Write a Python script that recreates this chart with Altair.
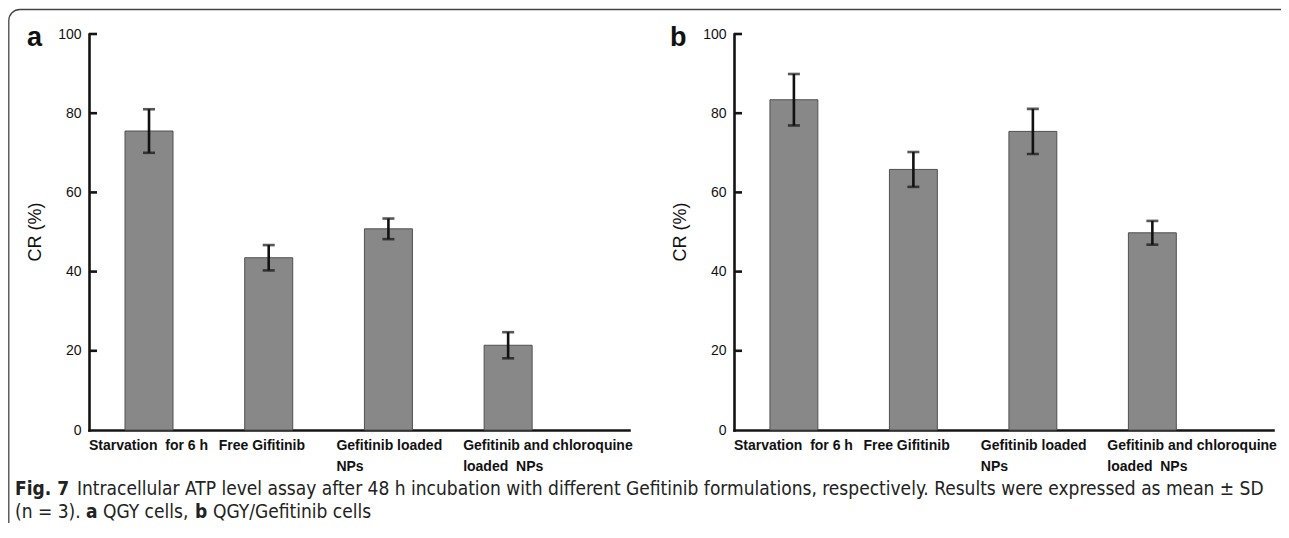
import altair as alt
import pandas as pd

# ---------------- data ----------------
categories = [
    "Starvation\u00a0 for 6 h",
    "Free Gifitinib",
    "Gefitinib loaded|\u00a0NPs",
    "Gefitinib and chloroquine|\u00a0loaded\u00a0 NPs",
]
a_mean = [75.5, 43.5, 50.8, 21.4]
a_sd = [5.5, 3.2, 2.6, 3.3]
b_mean = [83.4, 65.8, 75.4, 49.8]
b_sd = [6.5, 4.4, 5.7, 3.0]
y_ticks = [0, 20, 40, 60, 80, 100]
panel_letters = ["a", "b"]
y_title = "CR (%)"
cap1_bold = "Fig. 7"
cap1_text = ("Intracellular ATP level assay after 48 h incubation with different Gefitinib "
             "formulations, respectively. Results were expressed as mean \u00b1 SD")
cap2_parts = ["(n = 3).", "a", "QGY cells,", "b", "QGY/Gefitinib cells"]
cap2_bold = [False, True, False, True, False]

# ---------------- layout (chart pixel coords) ----------------
W = 1273
PH = 422          # y of value 0
Y100 = 26         # y of value 100
PAD_BOTTOM = 93
AXIS_COLOR = "#141414"
FONT = "Liberation Sans"
CAP_FONT = "DejaVu Sans Condensed, sans-serif"
label_offsets = [-60, -50, -52, -45]


def label_offset_cond():
    return {
        "condition": [
            {"test": f"datum.value === '{c}'", "value": o}
            for c, o in zip(categories[:-1], label_offsets[:-1])
        ],
        "value": label_offsets[-1],
    }


def panel(means, sds, x0, x1):
    df = pd.DataFrame({"cat": categories, "mean": means, "sd": sds})
    xs = alt.Scale(domain=categories, range=[x0, x1], paddingInner=0.599,
                   paddingOuter=0.555, align=0.271)
    ys = alt.Scale(domain=[0, 100], range=[PH, Y100], nice=False)
    xa = alt.Axis(orient="bottom", offset=0, title=None, ticks=False,
                  domainWidth=2.6, domainColor=AXIS_COLOR, domainCap="square",
                  labelFont=FONT, labelFontSize=14, labelFontWeight="bold",
                  labelColor="#111111", labelExpr="split(datum.label, '|')",
                  labelAlign="left", labelBaseline="top", labelPadding=8,
                  labelLineHeight=21, labelOffset=label_offset_cond(),
                  labelOverlap=False, labelFlush=False, labelBound=False,
                  labelAngle=0, labelLimit=0, grid=False)
    ya = alt.Axis(orient="left", offset=-x0, values=y_ticks, title=None,
                  ticks=False, domainWidth=2.6, domainColor=AXIS_COLOR,
                  domainCap="square", labelFont=FONT, labelFontSize=14,
                  labelColor="#111111", labelPadding=8, grid=False)
    base = alt.Chart(df).transform_calculate(
        lo="datum.mean - datum.sd", hi="datum.mean + datum.sd")
    X = alt.X("cat:N", scale=xs, axis=xa)
    bars = base.mark_bar(color="#888888", stroke="#505050", strokeWidth=1).encode(
        x=X, y=alt.Y("mean:Q", scale=ys, axis=ya))
    err = base.mark_rule(color="#111111", strokeWidth=2.6).encode(
        x=X, y=alt.Y("lo:Q", scale=ys, axis=ya), y2="hi:Q")
    cap_lo = base.mark_tick(color="#111111", size=12, thickness=2.6).encode(
        x=X, y=alt.Y("lo:Q", scale=ys, axis=ya))
    cap_hi = base.mark_tick(color="#111111", size=12, thickness=2.6).encode(
        x=X, y=alt.Y("hi:Q", scale=ys, axis=ya))
    tick_df = pd.DataFrame({"t": y_ticks[1:]})
    inner_ticks = alt.Chart(tick_df).mark_rule(color=AXIS_COLOR, strokeWidth=2.6).encode(
        y=alt.Y("t:Q", scale=ys, axis=ya), x=alt.value(x0), x2=alt.value(x0 + 8))
    return alt.layer(bars, err, cap_lo, cap_hi, inner_ticks)


def txt(text, x, y, size, bold=False, font=FONT, angle=0, align="left",
        baseline="alphabetic", color="#111111"):
    kw = dict(x=x, y=y, fontSize=size, font=font, align=align, baseline=baseline,
              color=color, fontWeight="bold" if bold else "normal")
    if angle:
        kw["angle"] = angle
    return alt.Chart(pd.DataFrame({"t": [text]})).mark_text(**kw).encode(text="t:N")


panel_a = panel(a_mean, a_sd, 81, 621)
panel_b = panel(b_mean, b_sd, 726, 1265)

frame = alt.Chart(pd.DataFrame({"k": [0]})).mark_rect(
    fillOpacity=0, stroke="#444444", strokeWidth=1.3, cornerRadius=11).encode(
    x=alt.value(0.8), x2=alt.value(W + 40), y=alt.value(1.5), y2=alt.value(PH + PAD_BOTTOM + 40))

CAP_COLOR = "#222222"
texts = [
    txt(panel_letters[0], 19, 38, 27, bold=True),
    txt(panel_letters[1], 662, 38, 27, bold=True),
    txt(y_title, 28, 224, 18, angle=270, align="center", baseline="middle"),
    txt(y_title, 673, 224, 18, angle=270, align="center", baseline="middle"),
    txt(cap1_bold, 7, 487, 19, bold=True, font=CAP_FONT, color=CAP_COLOR),
    txt(cap1_text, 69, 487, 19, font=CAP_FONT, color=CAP_COLOR),
]
cap2_x = [7, 78, 95, 187, 205]
for part, b, x in zip(cap2_parts, cap2_bold, cap2_x):
    texts.append(txt(part, x, 510, 19, bold=b, font=CAP_FONT, color=CAP_COLOR))

chart = alt.layer(frame, panel_a, panel_b, *texts).resolve_scale(
    x="independent", y="independent").properties(
    width=W, height=PH,
    autosize=alt.AutoSizeParams(type="none"),
    padding={"left": 0, "top": 0, "right": 0, "bottom": PAD_BOTTOM},
).configure_view(stroke=None)

chart.save("out.html", embed_options={"renderer": "svg", "actions": False})
